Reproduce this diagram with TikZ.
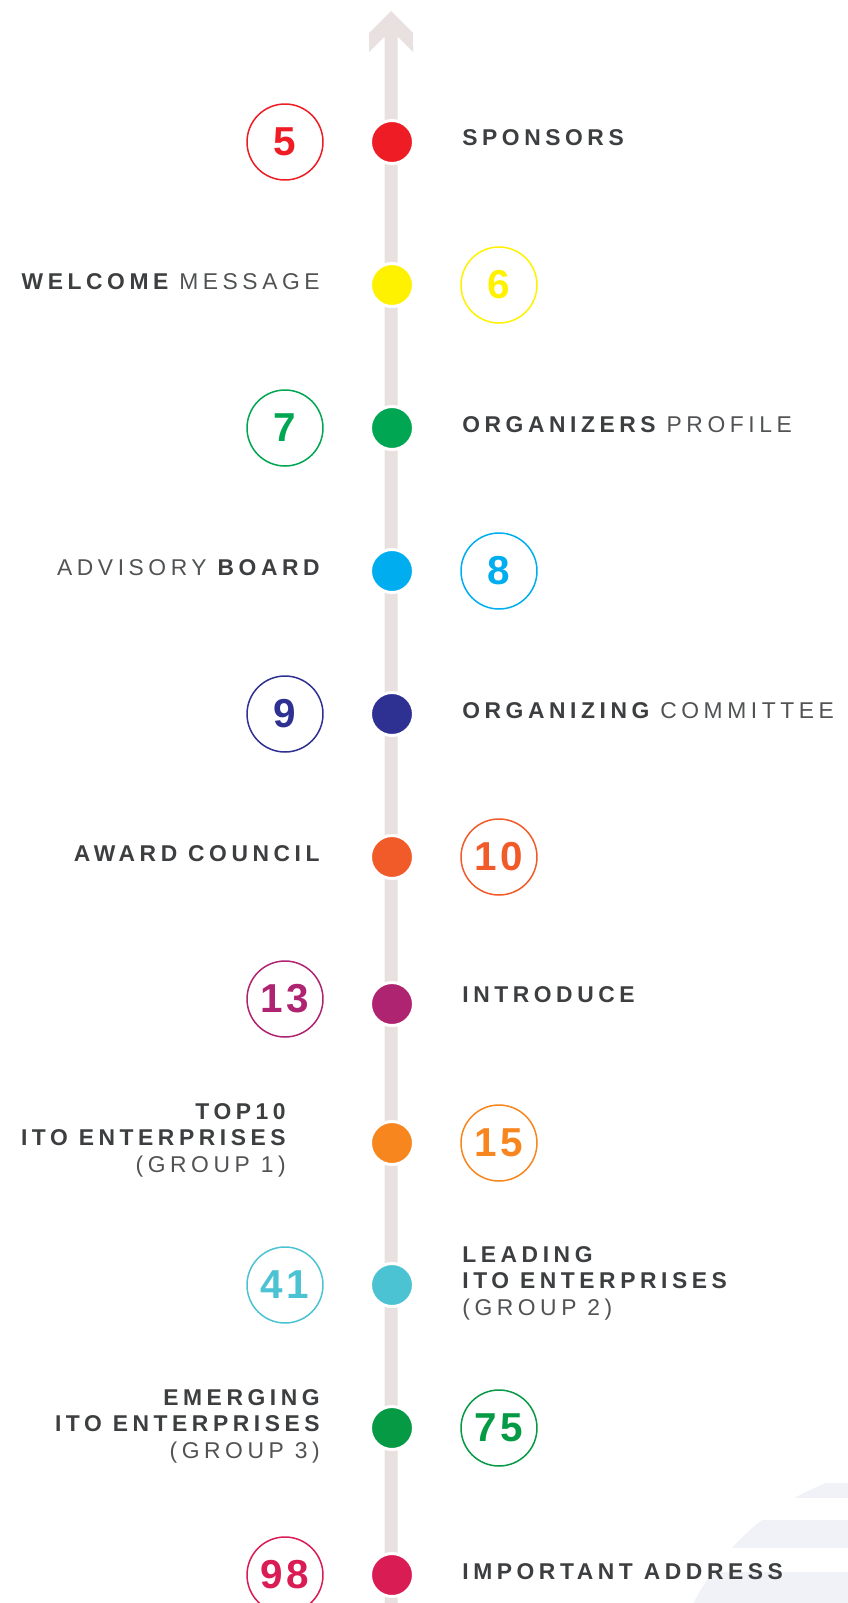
\documentclass[tikz,border=0pt]{standalone}
\usepackage{fontspec}
\setmainfont{Liberation Sans}
\newfontfamily\lblfont[LetterSpace=20]{Liberation Sans}
\newfontfamily\numfont[LetterSpace=8]{Liberation Sans}
\usepackage{tikz}
\usetikzlibrary{positioning}
\usepackage{xcolor}
\definecolor{axis}{HTML}{E8E1E0}
\definecolor{ink}{HTML}{3C3E40}
\definecolor{inklite}{HTML}{505254}
\definecolor{ghost}{HTML}{F1F2F8}
\definecolor{cred}{HTML}{EE1C25}
\definecolor{cyellow}{HTML}{FFF200}
\definecolor{cgreen}{HTML}{00A651}
\definecolor{csky}{HTML}{00AEEF}
\definecolor{cnavy}{HTML}{2E3192}
\definecolor{cflame}{HTML}{F15A29}
\definecolor{cplum}{HTML}{AE2471}
\definecolor{corange}{HTML}{F7861F}
\definecolor{cteal}{HTML}{4CC3D2}
\definecolor{cleaf}{HTML}{069A45}
\definecolor{ccrimson}{HTML}{DA1C55}
\newcommand\lite[1]{{\mdseries\color{inklite}#1}}

\begin{document}
\begin{tikzpicture}[
  x=0.02cm, y=-0.02cm,
  dot/.style={circle, draw=white, line width=0.06cm, minimum size=0.86cm, inner sep=0, fill=#1},
  ring/.style={circle, draw=#1, text=#1, line width=0.03cm, minimum size=1.52cm, inner sep=0,
    font=\numfont\fontsize{23}{23}\selectfont\bfseries},
  rlbl/.style={anchor=west, align=left, text=ink, inner sep=0, font=\lblfont\fontsize{13}{15.1}\selectfont\bfseries},
  llbl/.style={anchor=east, align=right, text=ink, inner sep=0, font=\lblfont\fontsize{13}{15.1}\selectfont\bfseries},
]
  \clip (0,0) rectangle (848,1603);

  % faint mark behind the last row
  \begin{scope}
    \clip (0,1483) rectangle (848,1603);
    \fill[ghost] (920,1720) circle[radius=5.1cm];
    \fill[white] (0,1498) rectangle (848,1520);
    \fill[white] (0,1548) rectangle (848,1572);
  \end{scope}

  % the time line
  \coordinate (tip) at (391,11);
  \coordinate (base) at (391,1603);
  \fill[axis] (tip) -- ++(22,22) -- ++(0,19) -- ++(-15.5,-15.5) -- (397.5,1603)
    -- (384.5,1603) -- (384.5,36.5) -- ++(-15.5,15.5) -- ++(0,-19) -- cycle;

  \node[dot=cred] (d5) at (392,142) {};
  \node[ring=cred] (n5) at (285,142) {5};
  \node[rlbl] (t5) at (462,138) {SPONSORS};

  \node[dot=cyellow] (d6) at (392,285) {};
  \node[ring=cyellow] (n6) at (499,285) {6};
  \node[llbl] (t6) at (320,282) {WELCOME \lite{MESSAGE}};

  \node[dot=cgreen] (d7) at (392,428) {};
  \node[ring=cgreen] (n7) at (285,428) {7};
  \node[rlbl] (t7) at (462,425) {ORGANIZERS \lite{PROFILE}};

  \node[dot=csky] (d8) at (392,571) {};
  \node[ring=csky] (n8) at (499,571) {8};
  \node[llbl] (t8) at (320,568) {\lite{ADVISORY} BOARD};

  \node[dot=cnavy] (d9) at (392,714) {};
  \node[ring=cnavy] (n9) at (285,714) {9};
  \node[rlbl] (t9) at (462,711) {ORGANIZING \lite{COMMITTEE}};

  \node[dot=cflame] (d10) at (392,857) {};
  \node[ring=cflame] (n10) at (499,857) {10};
  \node[llbl] (t10) at (320,854) {AWARD COUNCIL};

  \node[dot=cplum] (d13) at (392,1004) {};
  \node[ring=cplum] (n13) at (285,999) {13};
  \node[rlbl] (t13) at (462,995) {INTRODUCE};

  \node[dot=corange] (d15) at (392,1143) {};
  \node[ring=corange] (n15) at (499,1143) {15};
  \node[llbl] (t15) at (286,1140) {TOP10\\ITO ENTERPRISES\\\lite{(GROUP 1)}};

  \node[dot=cteal] (d41) at (392,1285) {};
  \node[ring=cteal] (n41) at (285,1285) {41};
  \node[rlbl] (t41) at (462,1283) {LEADING\\ITO ENTERPRISES\\\lite{(GROUP 2)}};

  \node[dot=cleaf] (d75) at (392,1428) {};
  \node[ring=cleaf] (n75) at (499,1428) {75};
  \node[llbl] (t75) at (320,1426) {EMERGING\\ITO ENTERPRISES\\\lite{(GROUP 3)}};

  \node[dot=ccrimson] (d98) at (392,1575) {};
  \node[ring=ccrimson] (n98) at (285,1575) {98};
  \node[rlbl] (t98) at (462,1572) {IMPORTANT ADDRESS};
\end{tikzpicture}
\end{document}
